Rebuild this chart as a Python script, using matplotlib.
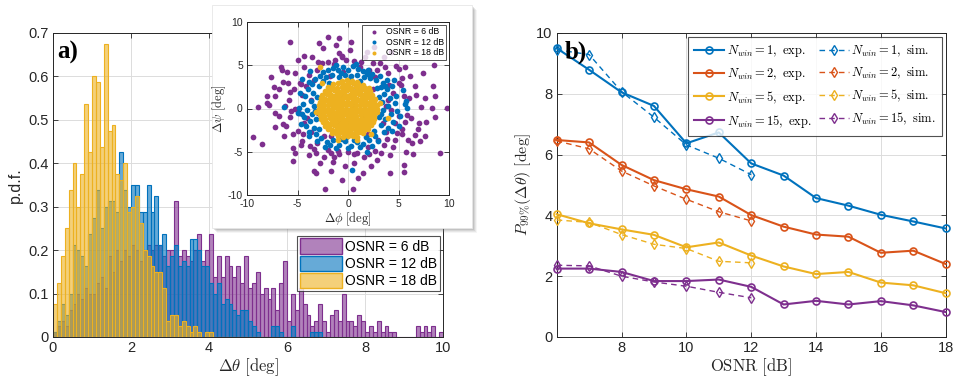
import numpy as np
import matplotlib as mpl
import matplotlib.pyplot as plt
from matplotlib.patches import Rectangle, Patch
from matplotlib.lines import Line2D

mpl.rcParams["font.family"] = ["Liberation Sans", "DejaVu Sans"]
mpl.rcParams["mathtext.fontset"] = "cm"
mpl.rcParams["axes.unicode_minus"] = False

# ==== colours (MATLAB default order) ====
C_BLUE = "#0072BD"
C_ORANGE = "#D95319"
C_YELLOW = "#EDB120"
C_PURPLE = "#7E2F8E"
AX_COL = "#262626"
GRID_COL = "#DCDCDC"

# ==== panel a): p.d.f. of delta theta, bin width 0.1 deg ====
BIN_W = 0.1
pdf_6db = [
    0.0125, 0.025, 0.0375, 0.025, 0.0625, 0.075, 0.1, 0.0875, 0.1125, 0.1,
    0.1, 0.125, 0.1375, 0.1125, 0.1875, 0.15, 0.2, 0.175, 0.2, 0.1875,
    0.2125, 0.2, 0.175, 0.2, 0.2125, 0.2, 0.2125, 0.2125, 0.1875, 0.2,
    0.2, 0.3125, 0.1875, 0.2, 0.1875, 0.175, 0.2, 0.2375, 0.175, 0.2,
    0.2375, 0.1375, 0.1875, 0.1375, 0.1875, 0.1625, 0.1375, 0.1625, 0.125, 0.1875,
    0.1125, 0.125, 0.15, 0.1, 0.1125, 0.0875, 0.1125, 0.0625, 0.125, 0.175,
    0.0375, 0.1, 0.0625, 0.1125, 0.075, 0.05, 0.025, 0.0375, 0.075, 0.0375,
    0.0125, 0.05, 0.0625, 0.0375, 0.1, 0.0375, 0.0375, 0.025, 0.05, 0.0375,
    0.0125, 0.025, 0.0125, 0.0375, 0.0125, 0.025, 0.0125, 0.0125, 0.0, 0.0,
    0.0, 0.0, 0.0, 0.025, 0.0125, 0.025, 0.0125, 0.025, 0.0, 0.0125,
]
pdf_12db = [
    0.0125, 0.0375, 0.075, 0.05, 0.1, 0.2125, 0.2, 0.1875, 0.1625, 0.2375,
    0.275, 0.3375, 0.25, 0.3, 0.3125, 0.3125, 0.2875, 0.425, 0.3375, 0.3,
    0.35, 0.35, 0.2875, 0.2875, 0.35, 0.2875, 0.325, 0.2125, 0.2375, 0.1625,
    0.1875, 0.2125, 0.1625, 0.175, 0.1625, 0.225, 0.225, 0.2, 0.1625, 0.1625,
    0.125, 0.1, 0.125, 0.075, 0.0875, 0.075, 0.0625, 0.05, 0.0625, 0.0625,
    0.0375, 0.025, 0.0125, 0.0, 0.0, 0.0, 0.025, 0.025, 0.0125, 0.0,
    0.0, 0.025, 0.0, 0.0, 0.0, 0.0, 0.0125, 0.0125, 0.0125,
]
pdf_18db = [
    0.075, 0.125, 0.1875, 0.25, 0.3375, 0.4, 0.3, 0.375, 0.5375, 0.425,
    0.6, 0.5875, 0.4375, 0.675, 0.475, 0.4875, 0.375, 0.3625, 0.4, 0.2875,
    0.3, 0.325, 0.2625, 0.2, 0.1875, 0.1625, 0.15, 0.15, 0.1125, 0.0375,
    0.05, 0.05, 0.025, 0.0375, 0.025, 0.0125, 0.025, 0.0125, 0.0, 0.0125,
    0.0125, 0.0, 0.0, 0.0, 0.0, 0.0, 0.0, 0.0, 0.0, 0.0,
    0.0, 0.0, 0.0, 0.0, 0.0,
]
hist_labels = ["OSNR = 6 dB", "OSNR = 12 dB", "OSNR = 18 dB"]

# ==== inset: constellation of (delta phi, delta psi) ====
scat_6db = [
    (-2.0, 8.3), (-0.9, 8.15), (-5.7, 7.7), (-2.9, 7.6), (-2.5, 7.0), (0.3, 7.7), (-4.4, 6.1),
    (-0.9, 6.4), (-0.6, 6.1), (-6.6, 4.8), (-6.5, 4.5), (-6.0, 4.2), (-5.2, 4.1), (-6.4, 3.1),
    (-5.9, 3.0), (-7.3, 2.5), (-8.0, 1.5), (-7.2, 1.5), (-8.9, 0.15), (-8.0, 0.6), (-7.8, 0.4),
    (-7.2, -0.5), (-9.4, -3.3), (-8.5, -4.1), (-7.2, -2.1), (-6.4, -1.8), (-6.8, -0.85),
    (-5.4, -2.9), (-5.2, -5.1), (-4.6, -3.8), (-3.9, -5.4), (-3.4, -7.2), (-3.2, -7.5),
    (-2.3, -9.3), (-1.7, -7.2), (-0.6, -8.3), (0.5, -9.3), (-0.3, -6.6), (2.3, -6.6),
    (2.9, -5.95), (4.15, -7.5), (5.5, -7.3), (5.5, -6.5), (4.2, -5.4), (5.7, -5.0), (6.4, -5.3),
    (7.6, -3.2), (6.6, -3.05), (5.3, -2.9), (7.0, -1.7), (7.7, -1.6), (8.6, -1.0), (9.1, -5.1),
    (9.85, 0.1), (8.3, 0.1), (7.2, 0.15), (7.6, 1.2), (6.7, 1.6), (8.6, 1.5), (8.4, 2.55),
    (6.6, 2.6), (5.6, 4.8), (8.5, 5.0), (5.0, 4.6), (4.0, 4.1), (4.1, 2.7), (5.3, 3.5), (6.1, 3.8),
    (3.15, 5.25), (2.5, 5.25), (1.3, 5.4), (2.1, 4.5), (2.65, 3.6), (5.2, 2.7), (5.8, -0.7),
    (5.3, -2.4), (4.7, -3.6), (3.55, -4.2), (2.7, -4.9), (1.6, -5.6), (0.6, -5.3), (0.0, -5.0),
    (-0.9, -5.3), (-1.7, -5.2), (-2.4, -5.6), (-3.4, -4.7), (-3.8, -4.3), (-5.4, -4.6),
    (-4.7, -4.2), (-5.0, -2.55), (-6.1, -2.0), (-5.7, -1.0), (-5.2, 0.0), (-6.2, 0.3), (-5.8, 1.0),
    (-4.55, 1.6), (-5.7, 1.85), (-4.7, 2.8), (-3.9, 3.9), (-3.05, 4.5), (-2.6, 5.25), (-2.0, 5.4),
    (-1.3, 5.6), (-0.2, 5.6), (0.6, 5.5), (-1.4, 5.1), (-1.8, 3.7), (-1.4, -5.6), (0.6, -6.25),
    (1.5, -7.5), (-1.5, -6.2), (-2.4, -3.2), (-3.7, -2.7), (-4.05, -1.1), (-4.4, -1.7), (3.5, -1.7),
    (3.8, -2.7), (4.0, 1.0), (4.5, 1.8), (4.3, -0.15), (5.0, -0.9), (4.7, -1.7), (3.0, -3.6),
    (2.0, -4.4), (-3.05, -4.0), (-3.4, 3.3), (-4.2, 2.55), (-3.7, 1.0), (4.8, 4.9), (1.9, 6.5),
    (0.2, 6.8), (3.6, 5.9), (6.0, 1.2), (6.2, -1.1), (7.1, -3.8), (6.3, -4.0), (1.0, -8.0),
    (-1.0, -4.9), (3.3, -5.2), (4.5, -4.4), (-6.3, -3.2), (-7.6, 3.6), (-5.0, 5.6), (-3.6, 6.0),
    (-1.2, 7.3), (2.6, 7.1), (4.3, 6.5), (7.4, 4.1), (6.9, -2.4), (5.9, -3.6), (-6.8, 2.2),
    (-5.4, -6.1), (-2.8, -6.3), (1.2, 4.8), (-0.5, 4.2), (2.0, -3.0), (-1.7, -3.2), (3.8, 0.3),
    (-3.0, -0.5), (2.5, 2.2), (-2.2, 1.8), (0.5, 0.3), (-1.0, -1.5), (1.5, -1.0), (-0.5, 1.5),
    (0.8, 2.5), (-4.8, 3.0), (-5.3, 2.2), (-4.9, -0.5), (-5.6, -0.3), (-4.5, -2.9), (-3.2, -5.2),
    (-2.0, -4.8), (0.9, -5.1), (2.1, -5.3), (3.9, -3.5), (4.9, -2.8), (5.6, -1.6), (5.5, 1.5),
    (5.0, 3.0), (3.7, 4.8), (-3.0, 5.4), (-4.4, 4.8), (-0.6, 5.9), (1.7, 5.9), (2.9, 4.4),
]
scat_12db = [
    (-2.5, 4.2), (-2.0, 4.5), (-1.5, 4.7), (-1.0, 4.4), (-0.5, 4.8), (0.0, 4.5), (0.5, 4.9),
    (1.0, 4.6), (1.5, 4.3), (2.0, 4.5), (2.4, 4.0), (-2.8, 3.8), (-2.2, 3.6), (-1.6, 3.9),
    (-0.9, 3.6), (-0.3, 3.9), (0.3, 3.7), (0.9, 3.9), (1.6, 3.6), (2.2, 3.5), (2.8, 3.3),
    (3.2, 3.8), (-3.3, 3.4), (3.5, 2.9), (-1.2, 5.0), (0.8, 5.1), (-3.8, 4.3), (-3.6, 2.8),
    (-4.0, 2.2), (-3.5, 1.8), (-4.3, 1.4), (-3.7, 0.9), (-4.5, 0.5), (-3.4, 0.3), (-4.1, -0.2),
    (-3.6, -0.6), (-4.4, -1.0), (-3.8, -1.5), (-4.2, -2.0), (-3.4, -2.2), (-3.9, -2.7),
    (-3.2, -3.0), (-4.7, -1.8), (-4.8, 1.8), (-6.3, 0.2), (-5.0, -0.5), (-3.1, 1.3), (-3.2, -1.2),
    (3.3, 2.5), (3.9, 2.2), (4.4, 2.6), (3.6, 1.7), (4.2, 1.2), (4.8, 1.5), (3.4, 0.8), (4.0, 0.3),
    (4.7, 0.6), (5.6, 0.5), (5.8, 0.1), (3.5, -0.2), (4.3, -0.6), (5.1, -0.9), (3.7, -1.2),
    (4.5, -1.6), (3.3, -1.9), (4.0, -2.3), (5.0, -2.0), (3.6, -2.7), (3.1, 1.3), (3.1, -1.0),
    (5.4, 2.1), (5.7, 0.9), (-2.7, -3.4), (-2.1, -3.9), (-1.5, -3.6), (-0.9, -4.2), (-0.3, -3.8),
    (0.3, -4.3), (0.9, -3.9), (1.5, -4.1), (2.1, -3.6), (2.7, -3.2), (3.0, -3.8), (-2.3, -4.4),
    (-1.2, -4.6), (0.0, -4.6), (1.2, -4.5), (2.4, -4.3), (-3.1, -3.8), (0.4, -7.1), (1.9, -5.0),
    (-0.6, -3.5), (1.8, -3.3), (-2.9, 2.6), (2.9, 2.4), (-2.9, -2.4), (2.6, -2.6), (-4.6, 3.4),
    (4.6, 3.3), (-1.9, 2.9), (1.2, 3.2), (3.3, -0.6), (-3.3, -0.3), (0.2, 3.4), (-0.2, -3.3),
    (-3.9, 3.1), (-4.9, 0.1), (-4.6, -0.6), (3.9, 3.3), (4.9, -0.3), (4.4, -2.6), (-1.8, -4.2),
    (0.6, -3.6), (-2.5, 3.2), (1.9, 4.0), (-0.7, 4.1), (3.7, 2.6), (-3.9, -3.2),
]
scat_18db = [
    (-0.6, 3.2), (-0.1, 3.25), (0.4, 3.15), (0.9, 3.05),
    (-1.5, 2.85), (-1.0, 2.9), (-0.5, 2.8), (0.0, 2.85), (0.5, 2.9), (1.0, 2.8), (1.5, 2.75),
    (-2.0, 2.45), (-1.55, 2.5), (-1.1, 2.4), (-0.6, 2.45), (-0.15, 2.5), (0.3, 2.4), (0.75, 2.45),
    (1.2, 2.5), (1.65, 2.4), (2.05, 2.35),
    (-2.3, 2.05), (-1.85, 2.0), (-1.4, 2.1), (-0.95, 2.05), (-0.5, 2.0), (-0.05, 2.1), (0.4, 2.05),
    (0.85, 2.0), (1.3, 2.1), (1.75, 2.0), (2.2, 2.05),
    (-2.55, 1.6), (-2.1, 1.65), (-1.65, 1.55), (-1.2, 1.6), (-0.75, 1.65), (-0.3, 1.6), (0.15, 1.55),
    (0.6, 1.6), (1.05, 1.65), (1.5, 1.6), (1.95, 1.55), (2.4, 1.6),
    (-2.7, 1.2), (-2.25, 1.15), (-1.8, 1.25), (-1.35, 1.2), (-0.9, 1.15), (-0.45, 1.2), (0.0, 1.25),
    (0.45, 1.2), (0.9, 1.15), (1.35, 1.2), (1.8, 1.25), (2.25, 1.2), (2.65, 1.15),
    (-2.8, 0.8), (-2.35, 0.85), (-1.9, 0.75), (-1.45, 0.8), (-1.0, 0.85), (-0.55, 0.8), (-0.1, 0.75),
    (0.35, 0.8), (0.8, 0.85), (1.25, 0.8), (1.7, 0.75), (2.15, 0.8), (2.6, 0.85),
    (-2.85, 0.4), (-2.4, 0.35), (-1.95, 0.45), (-1.5, 0.4), (-1.05, 0.35), (-0.6, 0.4), (-0.15, 0.45),
    (0.3, 0.4), (0.75, 0.35), (1.2, 0.4), (1.65, 0.45), (2.1, 0.4), (2.55, 0.35), (2.9, 0.4),
    (-2.9, 0.0), (-2.45, 0.05), (-2.0, -0.05), (-1.55, 0.0), (-1.1, 0.05), (-0.65, 0.0), (-0.2, -0.05),
    (0.25, 0.0), (0.7, 0.05), (1.15, 0.0), (1.6, -0.05), (2.05, 0.0), (2.5, 0.05), (2.9, 0.0),
    (-2.85, -0.4), (-2.4, -0.45), (-1.95, -0.35), (-1.5, -0.4), (-1.05, -0.45), (-0.6, -0.4),
    (-0.15, -0.35), (0.3, -0.4), (0.75, -0.45), (1.2, -0.4), (1.65, -0.35), (2.1, -0.4), (2.5, -0.45),
    (2.85, -0.4),
    (-2.8, -0.8), (-2.35, -0.85), (-1.9, -0.75), (-1.45, -0.8), (-1.0, -0.85), (-0.55, -0.8),
    (-0.1, -0.75), (0.35, -0.8), (0.8, -0.85), (1.25, -0.8), (1.7, -0.75), (2.15, -0.8), (2.6, -0.85),
    (-2.7, -1.2), (-2.25, -1.25), (-1.8, -1.15), (-1.35, -1.2), (-0.9, -1.25), (-0.45, -1.2),
    (0.0, -1.15), (0.45, -1.2), (0.9, -1.25), (1.35, -1.2), (1.8, -1.15), (2.25, -1.2), (2.6, -1.25),
    (-2.5, -1.6), (-2.05, -1.65), (-1.6, -1.55), (-1.15, -1.6), (-0.7, -1.65), (-0.25, -1.6),
    (0.2, -1.55), (0.65, -1.6), (1.1, -1.65), (1.55, -1.6), (2.0, -1.55), (2.45, -1.6),
    (-2.3, -2.0), (-1.85, -2.05), (-1.4, -1.95), (-0.95, -2.0), (-0.5, -2.05), (-0.05, -2.0),
    (0.4, -1.95), (0.85, -2.0), (1.3, -2.05), (1.75, -2.0), (2.25, -1.95),
    (-2.0, -2.4), (-1.55, -2.45), (-1.1, -2.35), (-0.65, -2.4), (-0.2, -2.45), (0.25, -2.4),
    (0.7, -2.35), (1.15, -2.4), (1.6, -2.45), (2.0, -2.4),
    (-1.6, -2.8), (-1.15, -2.85), (-0.7, -2.75), (-0.25, -2.8), (0.2, -2.85), (0.65, -2.8),
    (1.1, -2.75), (1.5, -2.8),
    (-1.0, -3.2), (-0.5, -3.25), (0.0, -3.15), (0.5, -3.2), (0.9, -3.25),
    (-2.8, 4.8), (3.95, -1.1), (-1.0, -3.6), (0.9, -3.6), (-3.2, -0.4), (3.2, 0.6), (-2.6, 3.0),
    (2.3, -3.0),
]
scat_labels = ["OSNR = 6 dB", "OSNR = 12 dB", "OSNR = 18 dB"]

# ==== panel b): 99th percentile vs OSNR ====
osnr_exp = [6, 7, 8, 9, 10, 11, 12, 13, 14, 15, 16, 17, 18]
osnr_sim = [6, 7, 8, 9, 10, 11, 12]
n_win = [1, 2, 5, 15]
p99_exp = {
    1: [9.5, 8.79, 8.05, 7.6, 6.37, 6.73, 5.71, 5.31, 4.57, 4.32, 4.02, 3.8, 3.57],
    2: [6.48, 6.4, 5.66, 5.16, 4.86, 4.62, 4.01, 3.63, 3.37, 3.3, 2.77, 2.84, 2.4],
    5: [4.04, 3.74, 3.54, 3.36, 2.95, 3.11, 2.68, 2.32, 2.07, 2.14, 1.79, 1.7, 1.44],
    15: [2.25, 2.25, 2.14, 1.84, 1.84, 1.89, 1.65, 1.07, 1.19, 1.07, 1.18, 1.04, 0.82],
}
p99_sim = {
    1: [9.45, 9.29, 8.07, 7.23, 6.32, 5.88, 5.34],
    2: [6.45, 6.19, 5.46, 4.97, 4.53, 4.12, 3.82],
    5: [3.85, 3.77, 3.37, 3.05, 2.91, 2.49, 2.44],
    15: [2.36, 2.34, 2.0, 1.81, 1.67, 1.47, 1.29],
}
line_cols = {1: C_BLUE, 2: C_ORANGE, 5: C_YELLOW, 15: C_PURPLE}


def style_axes(ax, tick_fs):
    ax.tick_params(direction="in", top=True, right=True, length=3.5, width=0.6,
                   labelsize=tick_fs, colors=AX_COL, pad=3)
    for s in ax.spines.values():
        s.set_color(AX_COL)
        s.set_linewidth(0.7)
    ax.grid(True, color=GRID_COL, linewidth=0.7)
    ax.set_axisbelow(True)


def fmt_num(v):
    return "0" if v == 0 else f"{v:g}"


fig = plt.figure(figsize=(9.54, 3.79), dpi=100)

# ---- panel a) ----
ax_a = fig.add_axes([53 / 954, 42 / 379, 390 / 954, 304 / 379])
style_axes(ax_a, 10.5)
handles = []
for heights, col, lab in zip([pdf_6db, pdf_12db, pdf_18db],
                             [C_PURPLE, C_BLUE, C_YELLOW], hist_labels):
    edges = np.arange(len(heights)) * BIN_W
    face = mpl.colors.to_rgba(col, 0.6)
    ax_a.bar(edges, heights, width=BIN_W, align="edge", facecolor=face,
             edgecolor=col, linewidth=0.8)
    handles.append(Patch(facecolor=face, edgecolor=col, linewidth=1.0, label=lab))
ax_a.set_xlim(0, 10)
ax_a.set_ylim(0, 0.7)
ax_a.set_xticks(np.arange(0, 11, 2))
ax_a.set_yticks(np.arange(0, 0.71, 0.1))
ax_a.set_yticklabels([fmt_num(round(v, 1)) for v in np.arange(0, 0.71, 0.1)])
ax_a.set_xlabel(r"$\Delta\theta\ [\mathrm{deg}]$", fontsize=12, color=AX_COL, labelpad=1)
ax_a.set_ylabel("p.d.f.", fontsize=11.5, color=AX_COL, labelpad=4)
ax_a.text(0.012, 0.975, "a)", transform=ax_a.transAxes, ha="left", va="top",
          fontsize=18, fontweight="bold", family="Liberation Serif")
leg_a = ax_a.legend(handles=handles, loc="upper right", bbox_to_anchor=(1.0, 0.345),
                    fontsize=10, frameon=True, fancybox=False, handlelength=3.0,
                    handleheight=1.3, handletextpad=0.2, borderpad=0.2,
                    labelspacing=0.15, borderaxespad=0.25)
leg_a.get_frame().set_edgecolor(AX_COL)
leg_a.get_frame().set_linewidth(0.8)

# ---- inset panel with shadow ----
px, py, pw, ph = 212 / 954, 151 / 379, 260 / 954, 223 / 379
for k, a in enumerate([0.08, 0.12, 0.16, 0.22]):
    off = (5 - k) / 954, (5 - k) / 379
    fig.patches.append(Rectangle((px + off[0], py - off[1]), pw, ph, transform=fig.transFigure,
                                 facecolor="#808080", edgecolor="none", alpha=a, zorder=2))
fig.patches.append(Rectangle((px, py), pw, ph, transform=fig.transFigure,
                             facecolor="white", edgecolor="#E6E6E6", linewidth=0.6, zorder=2.5))

ax_i = fig.add_axes([247 / 954, 184 / 379, 202 / 954, 173 / 379], zorder=3)
style_axes(ax_i, 7.5)
for pts, col, lab in zip([scat_6db, scat_12db, scat_18db],
                         [C_PURPLE, C_BLUE, C_YELLOW], scat_labels):
    arr = np.array(pts)
    ax_i.scatter(arr[:, 0], arr[:, 1], s=17, color=col, linewidths=0, label=lab)
ax_i.set_xlim(-10, 10)
ax_i.set_ylim(-10, 10)
ax_i.set_xticks([-10, -5, 0, 5, 10])
ax_i.set_yticks([-10, -5, 0, 5, 10])
ax_i.set_xlabel(r"$\Delta\phi\ [\mathrm{deg}]$", fontsize=9, color=AX_COL, labelpad=1)
ax_i.set_ylabel(r"$\Delta\psi\ [\mathrm{deg}]$", fontsize=9, color=AX_COL, labelpad=0)
leg_i = ax_i.legend(loc="upper right", fontsize=6.3, frameon=True, fancybox=False,
                    markerscale=0.7, handletextpad=0.2, borderpad=0.3, labelspacing=0.15,
                    borderaxespad=0.3, handlelength=2.2)
leg_i.get_frame().set_edgecolor(AX_COL)
leg_i.get_frame().set_linewidth(0.7)

# ---- panel b) ----
ax_b = fig.add_axes([556.7 / 954, 42 / 379, 389 / 954, 304 / 379])
style_axes(ax_b, 10.5)
exp_h, sim_h = [], []
for n in n_win:
    col = line_cols[n]
    ax_b.plot(osnr_exp, p99_exp[n], "-o", color=col, linewidth=1.5, markersize=5,
              markerfacecolor="none", markeredgewidth=1.2, clip_on=False, zorder=4)
    ax_b.plot(osnr_sim, p99_sim[n], "--d", color=col, linewidth=1.0, markersize=5,
              markerfacecolor="none", markeredgewidth=1.0, dashes=(4, 3), clip_on=False, zorder=3)
    exp_h.append(Line2D([], [], color=col, linestyle="-", marker="o", linewidth=1.5,
                        markersize=5, markerfacecolor="none", markeredgewidth=1.2,
                        label=r"$N_{win}=%d,\ \mathrm{exp.}$" % n))
    sim_h.append(Line2D([], [], color=col, linestyle="--", marker="d", linewidth=1.0,
                        markersize=5, markerfacecolor="none", dashes=(4, 3),
                        label=r"$N_{win}=%d,\ \mathrm{sim.}$" % n))
ax_b.set_xlim(6, 18)
ax_b.set_ylim(0, 10)
ax_b.set_xticks(np.arange(8, 19, 2))
ax_b.set_yticks(np.arange(0, 11, 2))
ax_b.set_xlabel(r"$\mathrm{OSNR}\ [\mathrm{dB}]$", fontsize=12, color=AX_COL, labelpad=1)
ax_b.set_ylabel(r"$P_{99\%}(\Delta\theta)\ [\mathrm{deg}]$", fontsize=11.5, color=AX_COL,
                labelpad=2)
ax_b.text(0.02, 0.975, "b)", transform=ax_b.transAxes, ha="left", va="top",
          fontsize=18, fontweight="bold", family="Liberation Serif", zorder=6)
leg_b = ax_b.legend(handles=exp_h + sim_h, ncol=2, loc="upper right", fontsize=9,
                    frameon=True, fancybox=False, handlelength=2.4, handletextpad=0.2,
                    columnspacing=0.6, borderpad=0.5, labelspacing=0.55, borderaxespad=0.3)
leg_b.get_frame().set_edgecolor(AX_COL)
leg_b.get_frame().set_linewidth(0.8)
leg_b.set_zorder(7)

fig.savefig("out.png", dpi=100)
